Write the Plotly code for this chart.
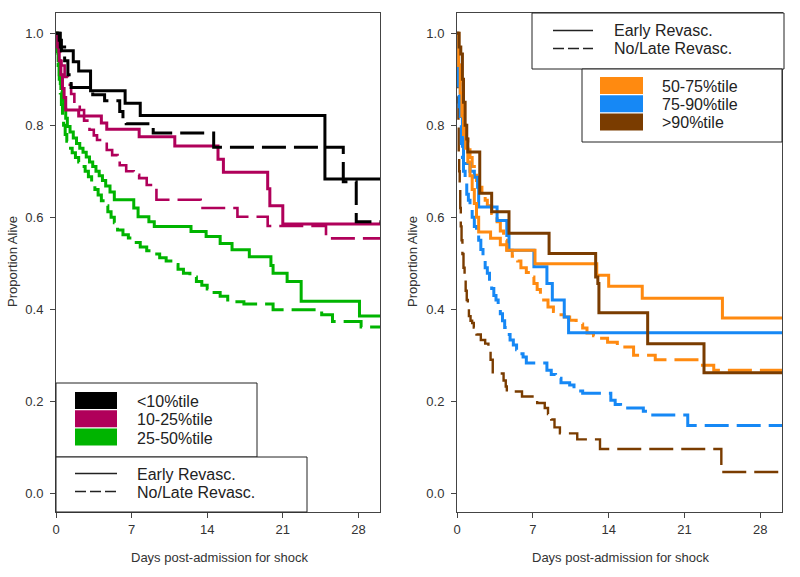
import plotly.graph_objects as go

# ---------------- data ----------------
FOLLOW_UP_END = 30
X_TICKS = [0, 7, 14, 21, 28]
Y_TICKS = [0.0, 0.2, 0.4, 0.6, 0.8, 1.0]

# Left panel: <10%tile, 10-25%tile, 25-50%tile
BLK_E_T = [0, 0.3, 0.5, 1.6, 2.1, 3.2, 6.4, 7.8, 24.9]
BLK_E_S = [1.0, 0.985, 0.962, 0.938, 0.918, 0.875, 0.848, 0.821, 0.683]
BLK_N_T = [0, 0.4, 0.8, 1.1, 1.4, 3.4, 4.5, 5.9, 6.2, 6.5, 9.0, 14.6, 26.6, 27.8]
BLK_N_S = [1.0, 0.97, 0.94, 0.91, 0.882, 0.866, 0.853, 0.83, 0.815, 0.803, 0.783, 0.752, 0.677, 0.59]

CRM_E_T = [0, 0.15, 0.3, 0.45, 0.6, 0.75, 0.9, 2.1, 4.2, 4.7, 7.7, 11.0, 15.0, 15.5, 19.6, 19.8, 21.0]
CRM_E_S = [1.0, 0.97, 0.94, 0.91, 0.88, 0.86, 0.833, 0.82, 0.805, 0.791, 0.775, 0.755, 0.726, 0.698, 0.662, 0.625, 0.585]
CRM_N_T = [0, 0.25, 0.5, 0.8, 1.1, 1.4, 1.7, 2.2, 2.6, 3.1, 3.5, 3.8, 4.7, 5.2, 5.7, 5.9, 6.5, 7.2, 7.7,
           8.4, 9.3, 13.4, 16.8, 19.6, 25.0]
CRM_N_S = [1.0, 0.96, 0.93, 0.905, 0.888, 0.868, 0.848, 0.833, 0.81, 0.79, 0.778, 0.768, 0.746, 0.735,
           0.724, 0.713, 0.70, 0.692, 0.685, 0.67, 0.638, 0.62, 0.601, 0.581, 0.554]

GRN_E_T = [0, 0.1, 0.2, 0.3, 0.45, 0.6, 0.75, 0.9, 1.05, 1.3, 1.6, 1.9, 2.2, 2.5, 2.8, 3.1, 3.4, 3.7, 4.0,
           4.3, 4.6, 5.0, 5.4, 7.2, 7.6, 8.6, 9.1, 12.5, 13.9, 15.2, 16.3, 17.9, 19.9, 20.1, 21.4, 22.7, 28.1]
GRN_E_S = [1.0, 0.97, 0.94, 0.91, 0.88, 0.855, 0.835, 0.815, 0.797, 0.785, 0.772, 0.76, 0.75, 0.741, 0.731,
           0.72, 0.71, 0.70, 0.69, 0.68, 0.668, 0.655, 0.638, 0.62, 0.601, 0.59, 0.58, 0.569, 0.558, 0.543,
           0.529, 0.514, 0.495, 0.478, 0.46, 0.417, 0.385]
GRN_N_T = [0, 0.1, 0.2, 0.3, 0.4, 0.5, 0.6, 0.7, 0.85, 1.0, 1.2, 1.5, 1.8, 2.1, 2.4, 2.7, 3.0, 3.3, 3.6,
           3.9, 4.2, 4.5, 4.8, 5.1, 5.4, 5.7, 6.2, 6.7, 7.2, 7.8, 8.4, 9.1, 9.6, 10.2, 10.8, 11.3, 11.8,
           12.4, 13.0, 13.5, 14.0, 14.5, 15.2, 15.9, 16.6, 17.4, 20.1, 24.6, 25.6, 28.25]
GRN_N_S = [1.0, 0.96, 0.93, 0.9, 0.87, 0.845, 0.82, 0.80, 0.78, 0.765, 0.75, 0.74, 0.73, 0.72, 0.71, 0.70,
           0.688, 0.675, 0.66, 0.648, 0.636, 0.625, 0.612, 0.60, 0.588, 0.572, 0.562, 0.555, 0.545, 0.535,
           0.527, 0.52, 0.512, 0.505, 0.497, 0.487, 0.478, 0.47, 0.46, 0.452, 0.444, 0.436, 0.428, 0.42,
           0.416, 0.411, 0.399, 0.388, 0.373, 0.361]

# Right panel: 50-75%tile, 75-90%tile, >90%tile
ORG_E_T = [0, 0.15, 0.3, 0.45, 0.6, 0.8, 1.0, 1.2, 1.4, 1.6, 1.8, 2.0, 3.1, 4.0, 4.6, 7.2, 12.9, 14.0, 17.1, 24.5]
ORG_E_S = [1.0, 0.93, 0.87, 0.82, 0.78, 0.75, 0.72, 0.69, 0.66, 0.63, 0.60, 0.568, 0.554, 0.54, 0.528,
           0.499, 0.474, 0.45, 0.424, 0.381]
ORG_N_T = [0, 0.1, 0.2, 0.3, 0.4, 0.5, 0.6, 0.8, 1.0, 1.2, 1.4, 1.6, 1.8, 2.0, 2.3, 2.6, 2.8, 3.2, 3.7, 4.0,
           4.3, 4.6, 5.1, 5.6, 5.9, 6.4, 6.8, 7.1, 7.4, 7.7, 8.0, 8.4, 8.9, 9.4, 9.9, 10.4, 11.0, 11.6,
           12.0, 12.6, 13.2, 13.9, 14.8, 16.3, 18.3, 22.5, 23.7]
ORG_N_S = [1.0, 0.96, 0.92, 0.88, 0.85, 0.82, 0.80, 0.77, 0.75, 0.73, 0.71, 0.695, 0.68, 0.665, 0.65,
           0.637, 0.625, 0.608, 0.59, 0.57, 0.55, 0.528, 0.515, 0.505, 0.49, 0.48, 0.47, 0.456, 0.443,
           0.43, 0.42, 0.405, 0.395, 0.388, 0.383, 0.376, 0.368, 0.359, 0.348, 0.342, 0.337, 0.328,
           0.318, 0.30, 0.29, 0.278, 0.267]

BLU_E_T = [0, 0.05, 0.15, 0.3, 0.4, 0.5, 0.6, 1.2, 1.6, 1.9, 2.0, 3.7, 4.6, 4.8, 7.1, 8.3, 8.8, 9.9, 10.3]
BLU_E_S = [1.0, 0.95, 0.89, 0.85, 0.82, 0.77, 0.717, 0.70, 0.687, 0.665, 0.622, 0.593, 0.56, 0.528,
           0.492, 0.456, 0.42, 0.383, 0.349]
BLU_N_T = [0, 0.05, 0.1, 0.15, 0.2, 0.3, 0.4, 0.5, 0.6, 0.75, 0.9, 1.05, 1.2, 1.4, 1.6, 1.8, 2.0, 2.2,
           2.4, 2.6, 2.8, 3.0, 3.2, 3.4, 3.6, 3.8, 4.0, 4.2, 4.4, 4.6, 4.9, 5.2, 5.5, 5.8, 6.1, 6.4,
           8.3, 8.7, 9.1, 9.6, 10.4, 10.8, 11.2, 11.6, 14.2, 14.6, 15.1, 17.2, 17.6, 21.3]
BLU_N_S = [1.0, 0.95, 0.91, 0.87, 0.84, 0.80, 0.76, 0.73, 0.70, 0.676, 0.65, 0.637, 0.62, 0.60, 0.58,
           0.565, 0.55, 0.53, 0.51, 0.49, 0.478, 0.46, 0.445, 0.43, 0.42, 0.405, 0.39, 0.375, 0.36,
           0.345, 0.333, 0.322, 0.312, 0.303, 0.296, 0.283, 0.267, 0.258, 0.25, 0.24, 0.235, 0.228,
           0.222, 0.217, 0.202, 0.193, 0.185, 0.178, 0.17, 0.147]

BRN_E_T = [0, 0.2, 0.35, 0.5, 0.6, 0.75, 0.9, 1.0, 2.1, 3.2, 4.8, 8.5, 12.8, 13.0, 13.1, 17.6, 22.8]
BRN_E_S = [1.0, 0.97, 0.955, 0.90, 0.85, 0.80, 0.77, 0.742, 0.652, 0.612, 0.565, 0.521, 0.47, 0.456,
           0.392, 0.325, 0.262]
BRN_N_T = [0, 0.03, 0.06, 0.1, 0.13, 0.16, 0.2, 0.25, 0.3, 0.35, 0.42, 0.5, 0.6, 0.7, 0.8, 0.9, 1.0,
           1.1, 1.25, 1.4, 1.55, 1.8, 2.2, 2.6, 2.9, 3.1, 3.3, 4.3, 4.5, 4.6, 6.0, 7.4, 8.1, 8.4, 8.7,
           9.0, 9.5, 11.1, 13.2, 24.4]
BRN_N_S = [1.0, 0.95, 0.9, 0.85, 0.80, 0.74, 0.70, 0.66, 0.62, 0.58, 0.55, 0.52, 0.49, 0.465, 0.44,
           0.42, 0.40, 0.385, 0.375, 0.37, 0.36, 0.345, 0.333, 0.325, 0.318, 0.29, 0.26, 0.245, 0.232,
           0.221, 0.21, 0.196, 0.185, 0.172, 0.16, 0.143, 0.13, 0.117, 0.096, 0.046]

LEFT_GROUPS = ["<10%tile", "10-25%tile", "25-50%tile"]
RIGHT_GROUPS = ["50-75%tile", "75-90%tile", ">90%tile"]
STRATA = ["Early Revasc.", "No/Late Revasc."]
X_TITLE = "Days post-admission for shock"
Y_TITLE = "Proportion Alive"

# ---------------- style ----------------
W, H = 800, 577
BLACK, CRIMSON, GREEN = "#000000", "#B0005A", "#00B400"
ORANGE, BLUE, BROWN = "#FF8A10", "#1688F5", "#7A3C00"
FONT = "Arial, Liberation Sans, sans-serif"
TXT = "#333333"
DASH = "24px,8px"

def px(x):
    return x / W

def py(y):
    return 1 - y / H

fig = go.Figure()

def add(t, s, color, dashed, xa, ya, width=3):
    fig.add_trace(go.Scatter(
        x=list(t) + [FOLLOW_UP_END], y=list(s) + [s[-1]], mode="lines",
        line=dict(color=color, width=width, dash=DASH if dashed else "solid", shape="hv"),
        xaxis=xa, yaxis=ya, showlegend=False, hoverinfo="skip"))

add(GRN_N_T, GRN_N_S, GREEN, True, "x", "y")
add(GRN_E_T, GRN_E_S, GREEN, False, "x", "y")
add(CRM_N_T, CRM_N_S, CRIMSON, True, "x", "y", 2.6)
add(CRM_E_T, CRM_E_S, CRIMSON, False, "x", "y")
add(BLK_N_T, BLK_N_S, BLACK, True, "x", "y")
add(BLK_E_T, BLK_E_S, BLACK, False, "x", "y")

add(BRN_N_T, BRN_N_S, BROWN, True, "x2", "y2", 2.4)
add(BLU_N_T, BLU_N_S, BLUE, True, "x2", "y2")
add(ORG_N_T, ORG_N_S, ORANGE, True, "x2", "y2")
add(BLU_E_T, BLU_E_S, BLUE, False, "x2", "y2")
add(ORG_E_T, ORG_E_S, ORANGE, False, "x2", "y2")
add(BRN_E_T, BRN_E_S, BROWN, False, "x2", "y2")

YDOM = [py(512), py(13)]
XR = [0, FOLLOW_UP_END]
YR = [-0.041, 1.044]

def xaxis(dom, anchor):
    return dict(domain=dom, range=XR, anchor=anchor, tickvals=X_TICKS, ticks="outside", ticklen=5,
                tickcolor="#444", showline=True, mirror=True, linecolor="#444", linewidth=1,
                showgrid=False, zeroline=False, automargin=False,
                tickfont=dict(family=FONT, size=13, color=TXT))

def yaxis(anchor):
    return dict(domain=YDOM, range=YR, anchor=anchor, tickvals=Y_TICKS, tickformat=".1f", ticks="outside",
                ticklen=5, tickcolor="#444", showline=True, mirror=True, linecolor="#444", linewidth=1,
                showgrid=False, zeroline=False, automargin=False,
                tickfont=dict(family=FONT, size=13, color=TXT), ticklabelstandoff=4)

fig.update_layout(
    width=W, height=H, margin=dict(l=0, r=0, t=0, b=0, pad=0),
    paper_bgcolor="white", plot_bgcolor="white",
    xaxis=xaxis([px(56), px(380)], "y"), yaxis=yaxis("x"),
    xaxis2=xaxis([px(457), px(782)], "y2"), yaxis2=yaxis("x2"),
)

shapes, annos = [], []

def box(x0, y0, x1, y1):
    shapes.append(dict(type="rect", xref="paper", yref="paper", x0=px(x0), x1=px(x1), y0=py(y1), y1=py(y0),
                       line=dict(color="#222", width=1), fillcolor="white", layer="above"))

def swatch(x0, y0, x1, y1, color):
    shapes.append(dict(type="rect", xref="paper", yref="paper", x0=px(x0), x1=px(x1), y0=py(y1), y1=py(y0),
                       line=dict(width=0), fillcolor=color, layer="above"))

def seg(x0, x1, y, dashed):
    shapes.append(dict(type="line", xref="paper", yref="paper", x0=px(x0), x1=px(x1), y0=py(y), y1=py(y),
                       line=dict(color="#222", width=1.3, dash="11px,4px" if dashed else "solid"),
                       layer="above"))

def text(x, y, s, size=16, **kw):
    annos.append(dict(xref="paper", yref="paper", x=px(x), y=py(y), text=s, showarrow=False,
                      xanchor=kw.get("xanchor", "left"), yanchor="middle", textangle=kw.get("angle", 0),
                      font=dict(family=FONT, size=size, color=kw.get("color", "#222"))))

# Left legends
box(56, 383, 257, 457)
for i, (lab, col) in enumerate(zip(LEFT_GROUPS, [BLACK, CRIMSON, GREEN])):
    y0 = 392 + i * 18.3
    swatch(75, y0, 117, y0 + 17, col)
    text(135, y0 + 9.5, lab)
box(56, 457, 307, 512)
seg(75, 117, 473.5, False)
seg(75, 117, 491.5, True)
text(135, 474, STRATA[0])
text(135, 492, STRATA[1])

# Right legends
box(532, 13, 784, 69)
seg(553, 593, 30.5, False)
seg(553, 593, 48.5, True)
text(612, 31, STRATA[0])
text(612, 49, STRATA[1])
box(582, 69, 782, 142)
for i, (lab, col) in enumerate(zip(RIGHT_GROUPS, [ORANGE, BLUE, BROWN])):
    y0 = 77 + i * 18.2
    swatch(600, y0, 643, y0 + 17, col)
    text(660, y0 + 9.5, lab)

# Axis titles
text(13, 262, Y_TITLE, size=13, angle=-90, xanchor="center", color=TXT)
text(413, 262, Y_TITLE, size=13, angle=-90, xanchor="center", color=TXT)
text(220, 557, X_TITLE, size=13, xanchor="center", color=TXT)
text(621, 557, X_TITLE, size=13, xanchor="center", color=TXT)

fig.update_layout(shapes=shapes, annotations=annos)
fig.write_html("out.html", config={"displayModeBar": False},
               post_script="document.body.style.margin='0';document.body.style.padding='0';"
                           "document.body.style.overflow='hidden';")
